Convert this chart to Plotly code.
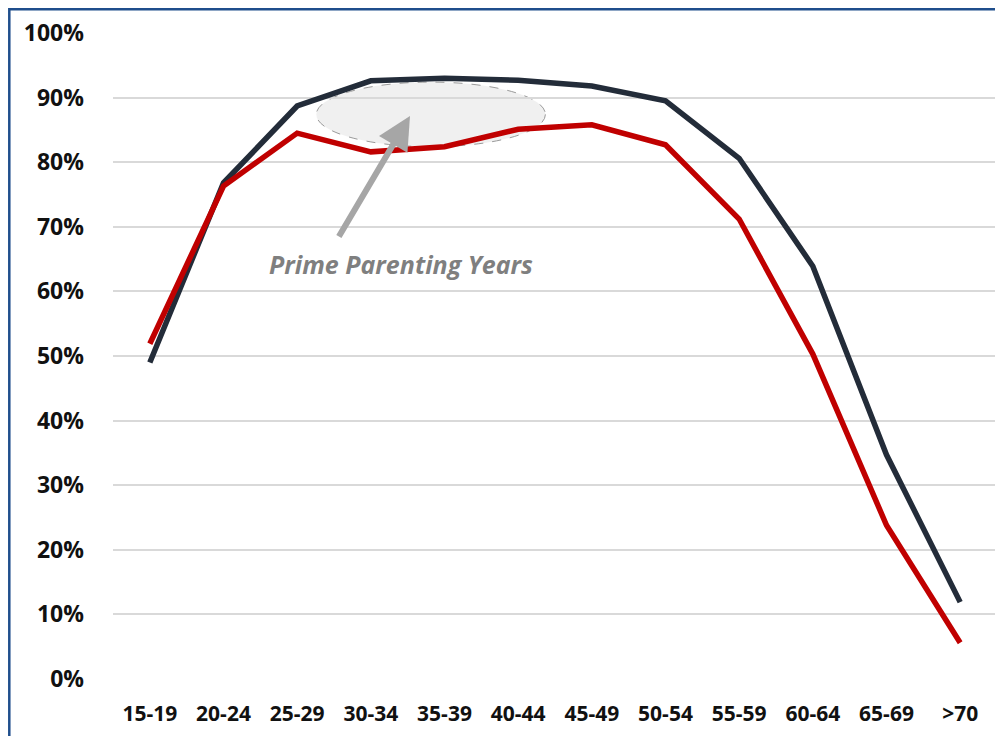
import plotly.graph_objects as go

categories = ["15-19", "20-24", "25-29", "30-34", "35-39", "40-44", "45-49",
              "50-54", "55-59", "60-64", "65-69", ">70"]
dark_series = [0.490, 0.768, 0.887, 0.926, 0.930, 0.927, 0.918, 0.895, 0.806, 0.639, 0.347, 0.119]
red_series = [0.519, 0.763, 0.845, 0.816, 0.824, 0.851, 0.858, 0.827, 0.712, 0.503, 0.238, 0.056]
y_ticks = [0, 0.1, 0.2, 0.3, 0.4, 0.5, 0.6, 0.7, 0.8, 0.9, 1.0]
y_tick_labels = ["0%", "10%", "20%", "30%", "40%", "50%", "60%", "70%", "80%", "90%", "100%"]

OFF = 8  # page body margin
W, H = 1003 - OFF, 736 - OFF
L, R, T, B = 113 - OFF, 6, 33 - OFF, 57
pw = W - L - R
ph = H - T - B


def px(xp):
    return (xp - OFF - L) / pw


def py(yp):
    return 1 - (yp - OFF - T) / ph


fig = go.Figure()

# highlighted ellipse (drawn below the lines)
fig.add_shape(type="circle", xref="x", yref="y",
              x0=2.26, x1=5.37, y0=0.824, y1=0.924,
              fillcolor="rgba(235,235,235,0.75)",
              line=dict(color="#9a9a9a", width=1, dash="dash"), layer="below")

fig.add_trace(go.Scatter(x=categories, y=dark_series, mode="lines",
                         line=dict(color="#232c39", width=5.5), name="Dark"))
fig.add_trace(go.Scatter(x=categories, y=red_series, mode="lines",
                         line=dict(color="#c00000", width=5.5), name="Red"))

# arrow
fig.add_annotation(x=px(410), y=py(116), xref="paper", yref="paper",
                   ax=338 - 410, ay=238 - 116, axref="pixel", ayref="pixel",
                   showarrow=True, arrowhead=2, arrowsize=1.1, arrowwidth=6,
                   arrowcolor="#a6a6a6", text="")
fig.add_annotation(x=px(401), y=py(264), xref="paper", yref="paper",
                   xanchor="center", yanchor="middle",
                   text="<b><i>Prime Parenting Years</i></b>", showarrow=False,
                   font=dict(family="Open Sans", size=25, color="#7f7f7f"))

# outer border (left and top visible)
fig.add_shape(type="rect", xref="paper", yref="paper",
              x0=px(9.3), x1=1.2, y0=-0.3, y1=py(9.3),
              line=dict(color="#1f4e8c", width=2.5), fillcolor="rgba(0,0,0,0)")

fig.update_layout(
    width=W, height=H,
    margin=dict(l=L, r=R, t=T, b=B),
    paper_bgcolor="white", plot_bgcolor="white",
    showlegend=False,
    font=dict(family="Open Sans", color="#1a1a1a"),
)
fig.update_xaxes(type="category", showgrid=False, showline=False, zeroline=False,
                 ticks="", ticklabelstandoff=20,
                 tickfont=dict(size=21, family="Open Sans", color="#111111"),
                 tickprefix="<b>", ticksuffix="</b>", range=[-0.5, 11.5])
fig.update_yaxes(range=[0, 1.0], tickvals=y_ticks, ticktext=["<b>" + t + "</b>" for t in y_tick_labels],
                 showgrid=True, gridcolor="#d9d9d9", gridwidth=1.5, zeroline=False,
                 showline=False, ticks="", ticklen=0, ticklabelstandoff=28,
                 tickfont=dict(size=23, family="Open Sans", color="#111111"))

fig.write_html("out.html")
